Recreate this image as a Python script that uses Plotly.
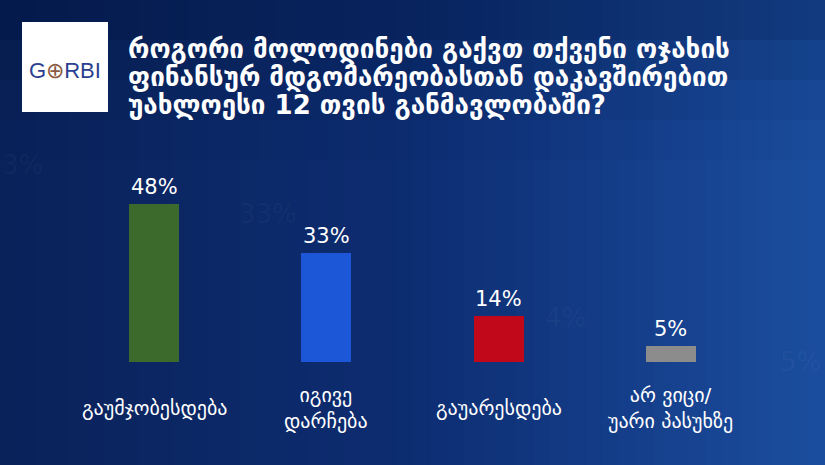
import plotly.graph_objects as go

categories = ["გაუმჯობესდება", "იგივე<br>დარჩება", "გაუარესდება", "არ ვიცი/<br>უარი პასუხზე"]
values = [48, 33, 14, 5]
value_labels = ["48%", "33%", "14%", "5%"]
bar_colors = ["#3b6a2c", "#1b57d6", "#c0081a", "#8c8c8c"]
title_lines = [
    "როგორი მოლოდინები გაქვთ თქვენი ოჯახის",
    "ფინანსურ მდგომარეობასთან დაკავშირებით",
    "უახლოესი 12 თვის განმავლობაში?",
]

FONT = "DejaVu Sans"
x_idx = list(range(len(categories)))

fig = go.Figure()
fig.add_trace(go.Bar(
    x=x_idx, y=values, width=0.29,
    marker=dict(color=bar_colors, line=dict(width=0)),
    hoverinfo="skip",
))

W, H = 825, 465
ml, mr, mt, mb = 68, 68, 150, 103
pw, ph = W - ml - mr, H - mt - mb

def px(x):
    return (x - ml) / pw

def py(y):
    return (H - mb - y) / ph

# background gradient strips across the whole page
def lerp(c1, c2, t):
    return "#%02x%02x%02x" % tuple(int(round(a + (b - a) * t)) for a, b in zip(c1, c2))

c_left = (10, 34, 90)
c_mid = (13, 45, 114)
c_right = (27, 77, 158)
shapes = []
n = 48
for i in range(n):
    t = i / (n - 1)
    col = lerp(c_left, c_mid, t / 0.5) if t < 0.5 else lerp(c_mid, c_right, (t - 0.5) / 0.5)
    x0 = W * i / n
    x1 = W * (i + 1) / n + 1
    shapes.append(dict(type="rect", xref="paper", yref="paper", layer="below",
                       x0=px(x0), x1=px(x1), y0=py(H + 5), y1=py(-5),
                       fillcolor=col, line=dict(width=0)))
# slightly darker top band
for j, a in enumerate([0.12, 0.08, 0.05, 0.02]):
    shapes.append(dict(type="rect", xref="paper", yref="paper", layer="below",
                       x0=px(-5), x1=px(W + 5), y0=py(40 * (j + 1)), y1=py(-5),
                       fillcolor="rgba(4,12,40,%.2f)" % a, line=dict(width=0)))

# logo box
shapes.append(dict(type="rect", xref="paper", yref="paper", layer="above",
                   x0=px(22), x1=px(108), y0=py(112), y1=py(22),
                   fillcolor="white", line=dict(width=0)))

annotations = [dict(xref="paper", yref="paper", x=px(65), y=py(70),
                    text="G<span style='color:#8a5a44'>⊕</span>RBI", showarrow=False,
                    font=dict(family="Liberation Sans", size=22, color="#2a3f8f"),
                    xanchor="center", yanchor="middle")]

# very faint ghost texts of the blurred backdrop
for gx, gy, gt in [(268, 214, "33%"), (565, 318, "4%"), (800, 362, "5%"), (22, 165, "3%")]:
    annotations.append(dict(xref="paper", yref="paper", x=px(gx), y=py(gy), text=gt,
                            showarrow=False, xanchor="center", yanchor="middle",
                            font=dict(family=FONT, size=26, color="rgba(255,255,255,0.035)")))

for i, line in enumerate(title_lines):
    annotations.append(dict(xref="paper", yref="paper", x=px(126), y=py(49 + i * 28),
                            text=line, showarrow=False, xanchor="left", yanchor="middle",
                            font=dict(family=FONT, size=26, color="white", weight="bold")))

for i, cat in enumerate(categories):
    annotations.append(dict(xref="x", yref="paper", x=i, y=py(408),
                            text=cat, showarrow=False, xanchor="center", yanchor="middle",
                            font=dict(family=FONT, size=20, color="white")))

for i, (v, lab) in enumerate(zip(values, value_labels)):
    annotations.append(dict(xref="x", yref="y", x=i, y=v, yshift=3,
                            text=lab, showarrow=False, xanchor="center", yanchor="bottom",
                            font=dict(family=FONT, size=21, color="white")))

fig.update_layout(
    width=W, height=H,
    margin=dict(l=ml, r=mr, t=mt, b=mb),
    paper_bgcolor="#0c2a6a", plot_bgcolor="rgba(0,0,0,0)",
    showlegend=False, shapes=shapes, annotations=annotations,
    xaxis=dict(range=[-0.5, 3.5], showgrid=False, zeroline=False, showticklabels=False,
               showline=False, fixedrange=True),
    yaxis=dict(range=[0, ph / 3.3], showgrid=False, zeroline=False, showticklabels=False,
               showline=False, fixedrange=True),
    bargap=0,
)

fig.write_html("out.html", config={"displayModeBar": False},
               post_script="document.body.style.margin='0';document.body.style.background='#0c2a6a';")
